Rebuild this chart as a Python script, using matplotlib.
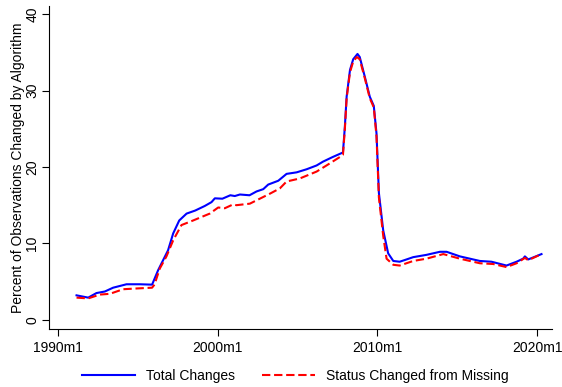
import matplotlib
matplotlib.use("Agg")
import matplotlib.pyplot as plt
import numpy as np

# decimal years
total_t = [1991.17, 1991.9, 1992.42, 1992.94, 1993.46, 1994.3, 1995.13, 1995.9,
           1996.28, 1996.59, 1996.9, 1997.22, 1997.6, 1998.06, 1998.6, 1999.2,
           1999.62, 1999.83, 2000.3, 2000.8, 2001.08, 2001.4, 2002.0, 2002.44,
           2002.86, 2003.17, 2003.8, 2004.32, 2004.95, 2005.57, 2006.2, 2006.6,
           2007.2, 2007.85, 2007.97, 2008.08, 2008.29, 2008.49, 2008.76, 2008.9,
           2009.22, 2009.53, 2009.78, 2009.95, 2010.1, 2010.37, 2010.68, 2011.0,
           2011.4, 2011.83, 2012.25, 2013.08, 2013.92, 2014.34, 2015.17, 2016.42,
           2017.15, 2018.09, 2018.72, 2019.13, 2019.24, 2019.45, 2020.28]
total = [3.2, 2.9, 3.5, 3.7, 4.2, 4.65, 4.65, 4.6,
         6.5, 7.8, 9.1, 11.3, 13.0, 13.9, 14.3, 14.9,
         15.4, 15.9, 15.85, 16.3, 16.2, 16.4, 16.3, 16.8,
         17.1, 17.7, 18.2, 19.1, 19.3, 19.7, 20.2, 20.7,
         21.3, 21.9, 25.3, 29.2, 32.7, 34.1, 34.8, 34.4,
         31.8, 29.2, 28.0, 24.4, 16.6, 11.7, 8.7, 7.7,
         7.6, 7.9, 8.2, 8.5, 8.9, 8.9, 8.3, 7.7,
         7.6, 7.1, 7.6, 8.0, 8.3, 7.9, 8.6]

status_t = [1991.17, 1991.9, 1992.63, 1993.26, 1994.09, 1994.93, 1995.9, 1996.05,
            1996.38, 1996.8, 1997.22, 1997.74, 1998.47, 1999.51, 2000.04, 2000.45,
            2000.97, 2001.18, 2002.02, 2002.5, 2003.27, 2003.9, 2004.32, 2005.15,
            2006.2, 2006.82, 2007.65, 2007.85, 2007.97, 2008.08, 2008.29, 2008.49,
            2008.72, 2008.9, 2009.22, 2009.53, 2009.78, 2009.95, 2010.1, 2010.37,
            2010.58, 2011.0, 2011.4, 2012.25, 2013.08, 2014.13, 2015.17, 2016.42,
            2017.26, 2018.09, 2018.72, 2019.24, 2019.45, 2020.28]
status = [2.9, 2.8, 3.3, 3.4, 4.0, 4.1, 4.2, 4.6,
          6.7, 8.3, 10.4, 12.4, 13.0, 13.9, 14.7, 14.6,
          15.1, 15.0, 15.2, 15.7, 16.5, 17.2, 18.1, 18.5,
          19.4, 20.2, 21.3, 21.6, 25.0, 29.0, 32.4, 33.8,
          34.4, 34.1, 31.6, 29.0, 27.8, 24.0, 16.0, 11.0,
          8.0, 7.2, 7.1, 7.7, 8.0, 8.6, 8.0, 7.4,
          7.3, 6.9, 7.4, 8.1, 7.8, 8.6]

xticks = [1990, 2000, 2010, 2020]
xtick_labels = ["1990m1", "2000m1", "2010m1", "2020m1"]
yticks = [0, 10, 20, 30, 40]

plt.rcParams['font.family'] = ['Liberation Sans', 'DejaVu Sans']

fig = plt.figure(figsize=(5.62, 3.87), dpi=100)
ax = fig.add_axes([0.087, 0.149, 0.895, 0.836])

ax.plot(total_t, total, color='#0000ff', lw=1.5, label='Total Changes')
ax.plot(status_t, status, color='#ff0000', lw=1.5, dashes=(4, 1.8),
        label='Status Changed from Missing')

ax.set_xlim(1989.44, 2020.93)
ax.set_ylim(-1.25, 41.1)
ax.set_xticks(xticks)
ax.set_xticklabels(xtick_labels)
ax.set_yticks(yticks)
ax.set_yticklabels([str(v) for v in yticks], rotation=90, va='center')
ax.tick_params(labelsize=10, length=5, width=0.8, colors='black')
ax.tick_params(axis='y', pad=2)
ax.set_ylabel("Percent of Observations Changed by Algorithm", fontsize=10, labelpad=0)

for s in ['top', 'right']:
    ax.spines[s].set_visible(False)

ax.legend(loc='upper center', bbox_to_anchor=(0.49, -0.085), ncol=2, frameon=False,
          fontsize=10, handlelength=3.8, columnspacing=1.9)

fig.savefig("out.png", dpi=100)
